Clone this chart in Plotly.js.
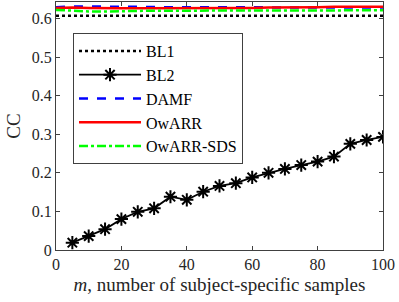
<!DOCTYPE html>
<html>
<head>
<meta charset="utf-8">
<script src="https://cdn.plot.ly/plotly-3.0.1.min.js"></script>
<style>html,body{margin:0;padding:0;background:#fff;}#chart{width:399px;height:302px;}</style>
</head>
<body>
<div id="chart"></div>
<script>
const mAll = [0,5,10,15,20,25,30,35,40,45,50,55,60,65,70,75,80,85,90,95,100];
const mBL2 = [5,10,15,20,25,30,35,40,45,50,55,60,65,70,75,80,85,90,95,100];
const bl1 = [0.607,0.607,0.607,0.607,0.607,0.607,0.607,0.607,0.607,0.607,0.607,0.607,0.607,0.607,0.607,0.607,0.607,0.607,0.607,0.607,0.607];
const bl2 = [0.019,0.036,0.054,0.080,0.099,0.108,0.138,0.130,0.151,0.166,0.173,0.188,0.200,0.210,0.220,0.229,0.242,0.275,0.285,0.293];
const damf = [0.629,0.631,0.631,0.630,0.630,0.630,0.629,0.629,0.629,0.629,0.629,0.629,0.629,0.628,0.628,0.628,0.628,0.628,0.628,0.628,0.628];
const owarr = [0.627,0.628,0.627,0.626,0.626,0.626,0.626,0.626,0.626,0.627,0.627,0.627,0.627,0.628,0.628,0.629,0.629,0.630,0.630,0.630,0.630];
const owarrSds = [0.622,0.620,0.618,0.618,0.619,0.619,0.620,0.620,0.620,0.620,0.621,0.621,0.620,0.620,0.620,0.620,0.620,0.620,0.621,0.621,0.621];
const xTicks = [0,20,40,60,80,100];
const yTicks = [0,0.1,0.2,0.3,0.4,0.5,0.6];
const yTickText = ['0','0.1','0.2','0.3','0.4','0.5','0.6'];

const serif = 'Liberation Serif, Times New Roman, serif';
const traces = [
  {x: mAll, y: bl1, name: 'BL1', mode: 'lines', line: {color: '#000000', dash: 'dot', width: 2.5}},
  {x: mBL2, y: bl2, name: 'BL2', mode: 'lines+markers', line: {color: '#000000', width: 1.8},
   marker: {symbol: 'asterisk-open', size: 11, color: '#000000', line: {color: '#000000', width: 2}}},
  {x: mAll, y: damf, name: 'DAMF', mode: 'lines', line: {color: '#0000ff', dash: 'dash', width: 2.5}},
  {x: mAll, y: owarr, name: 'OwARR', mode: 'lines', line: {color: '#ff0000', width: 2.5}},
  {x: mAll, y: owarrSds, name: 'OwARR-SDS', mode: 'lines', line: {color: '#00ff00', dash: 'dashdot', width: 2.5}}
];
const axisCommon = {
  showline: true, mirror: 'ticks', linecolor: '#404040', linewidth: 1,
  ticks: 'inside', ticklen: 4, tickcolor: '#404040', showgrid: false, zeroline: false,
  tickfont: {family: serif, size: 16, color: '#262626'}
};
const layout = {
  width: 399, height: 302,
  margin: {l: 56, r: 16, t: 2, b: 52},
  paper_bgcolor: '#ffffff', plot_bgcolor: '#ffffff',
  showlegend: true,
  xaxis: Object.assign({}, axisCommon, {
    range: [0, 100], tickvals: xTicks, ticktext: xTicks.map(String),
    title: {text: '<i>m</i>, number of subject-specific samples', font: {family: serif, size: 19, color: '#262626'}, standoff: 5}
  }),
  yaxis: Object.assign({}, axisCommon, {
    range: [0, 0.6425], tickvals: yTicks, ticktext: yTickText,
    title: {text: 'CC', font: {family: serif, size: 19, color: '#262626'}, standoff: 6}
  }),
  legend: {
    x: 0.052, y: 0.875, xanchor: 'left', yanchor: 'top',
    bgcolor: '#ffffff', bordercolor: '#404040', borderwidth: 1,
    font: {family: serif, size: 16, color: '#000000'},
    itemwidth: 62, tracegroupgap: 0
  }
};
Plotly.newPlot('chart', traces, layout, {displayModeBar: false, staticPlot: true});
</script>
</body>
</html>
